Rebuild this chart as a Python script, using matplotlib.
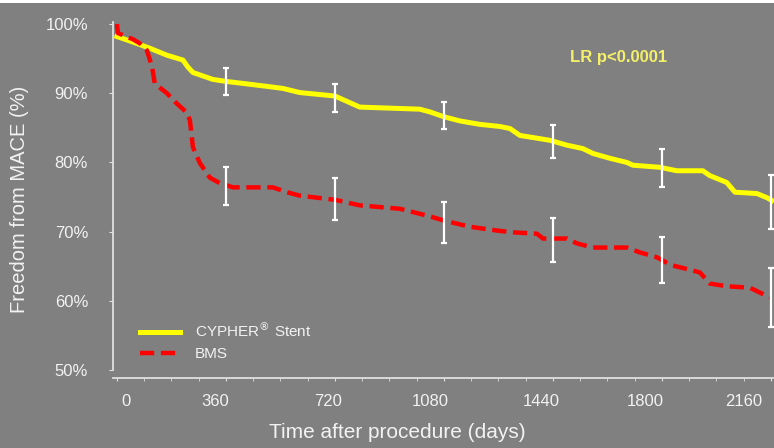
import matplotlib
matplotlib.use("Agg")
import matplotlib.pyplot as plt
import matplotlib.transforms as mtransforms
from matplotlib.patches import Rectangle

plt.rcParams['font.family'] = ['Liberation Sans', 'DejaVu Sans']
plt.rcParams['mathtext.fontset'] = 'dejavusans'

# Kaplan-Meier curves (days, % free from MACE)
cypher_days = [0, 53, 109, 165, 218, 234, 251, 317, 363, 439, 495, 548, 604, 720, 802,
               1000, 1034, 1080, 1133, 1199, 1265, 1298, 1331, 1374, 1430, 1486, 1539,
               1572, 1628, 1684, 1704, 1793, 1849, 1935, 1958, 2014, 2041, 2114, 2147, 2163]
cypher_pct = [98.2, 97.4, 96.5, 95.5, 94.8, 93.8, 93.0, 92.0, 91.7, 91.3, 91.0, 90.7, 90.1,
              89.6, 88.0, 87.7, 87.3, 86.6, 86.0, 85.5, 85.2, 84.9, 83.9, 83.6, 83.2, 82.5,
              82.0, 81.3, 80.6, 80.0, 79.6, 79.3, 78.8, 78.8, 78.1, 77.1, 75.7, 75.5, 74.9, 74.5]

bms_days = [0, 3, 53, 76, 99, 116, 125, 165, 198, 231, 241, 251, 274, 307, 340, 383, 515,
            561, 604, 720, 802, 935, 1034, 1080, 1166, 1232, 1265, 1308, 1387, 1407, 1486,
            1519, 1572, 1684, 1727, 1783, 1816, 1836, 1882, 1925, 1958, 2014, 2090, 2123, 2156]
bms_pct = [100.0, 98.7, 97.8, 97.2, 96.2, 93.8, 91.4, 90.0, 88.5, 87.2, 86.1, 82.2, 79.9,
           77.8, 77.0, 76.4, 76.4, 75.7, 75.2, 74.6, 73.8, 73.3, 72.2, 71.6, 70.7, 70.3,
           70.1, 69.9, 69.7, 69.0, 69.0, 68.3, 67.7, 67.7, 67.0, 66.3, 65.5, 65.1, 64.6,
           64.1, 62.5, 62.1, 61.9, 61.2, 60.5]

# yearly confidence intervals
ci_days = [360, 720, 1080, 1440, 1800, 2160]
cypher_ci_mid = [91.7, 89.3, 86.8, 83.0, 79.2, 74.3]
cypher_ci_err = [1.9, 2.0, 2.0, 2.4, 2.7, 3.9]
bms_ci_mid = [76.6, 74.7, 71.3, 68.8, 65.9, 60.5]
bms_ci_err = [2.8, 3.0, 3.0, 3.2, 3.3, 4.3]

x_ticks = [0, 360, 720, 1080, 1440, 1800, 2160]
y_ticks = [50, 60, 70, 80, 90, 100]
# the labels in the original slide sit a bit off their ticks (pixels)
x_label_shift = [9, -11, -7, -14, -12, -17, -27]

bg = '#808080'
txt = '#f2f2f2'

fig = plt.figure(figsize=(7.74, 4.48), dpi=100, facecolor=bg)
ax = fig.add_axes([113 / 774, 78 / 448, 661 / 774, 348 / 448], facecolor=bg)
fig.add_artist(Rectangle((0, 445 / 448), 1, 3 / 448, transform=fig.transFigure,
                         facecolor='white', edgecolor='none'))

ax.plot(cypher_days, cypher_pct, color='#ffff00', lw=3.6, label=r'CYPHER$^{\circledR}$ Stent',
        zorder=3)
ax.plot(bms_days, bms_pct, color='#ff0000', lw=3.2, dashes=(3.2, 1.5), label='BMS', zorder=3)

ax.errorbar(ci_days, cypher_ci_mid, yerr=cypher_ci_err, fmt='none', ecolor='white',
            elinewidth=1.6, capsize=2.5, capthick=1.6, clip_on=False, zorder=4)
ax.errorbar(ci_days, bms_ci_mid, yerr=bms_ci_err, fmt='none', ecolor='white',
            elinewidth=1.6, capsize=2.5, capthick=1.6, clip_on=False, zorder=4)

ax.set_xlim(-13, 2170)
ax.set_ylim(50, 100.3)
ax.set_xticks(x_ticks)
ax.set_xticks(range(0, 2170, 90), minor=True)
ax.set_yticks(y_ticks)
ax.set_yticklabels([f'{v}%' for v in y_ticks])

for side in ['top', 'right']:
    ax.spines[side].set_visible(False)
for side in ['left', 'bottom']:
    ax.spines[side].set_color('#e0e0e0')
    ax.spines[side].set_linewidth(1.3)
ax.spines['bottom'].set_position(('outward', 6))

ax.tick_params(axis='x', which='both', colors='#e0e0e0', labelcolor=txt, labelsize=12,
               length=2, direction='out', pad=9)
ax.tick_params(axis='y', colors='#e0e0e0', labelcolor=txt, labelsize=12, length=3, pad=15)

for lab, dx in zip(ax.get_xticklabels(), x_label_shift):
    lab.set_transform(lab.get_transform() +
                      mtransforms.ScaledTranslation(dx / 100, 0, fig.dpi_scale_trans))

ax.set_xlabel('Time after procedure (days)', color=txt, fontsize=15)
ax.xaxis.set_label_coords(0.43, -0.152)
ax.set_ylabel('Freedom from MACE (%)', color=txt, fontsize=14.5)
ax.yaxis.set_label_coords(-0.127, 0.49)

ax.text(0.765, 0.897, 'LR p<0.0001', transform=ax.transAxes, color='#f5f06a',
        fontsize=12, fontweight='bold', ha='center', va='center')

leg = ax.legend(loc='lower left', bbox_to_anchor=(0.02, -0.014), frameon=False,
                fontsize=11, handlelength=2.6, handletextpad=1.0, labelspacing=0.45)
for t in leg.get_texts():
    t.set_color(txt)

fig.savefig('out.png', dpi=100, facecolor=bg)
